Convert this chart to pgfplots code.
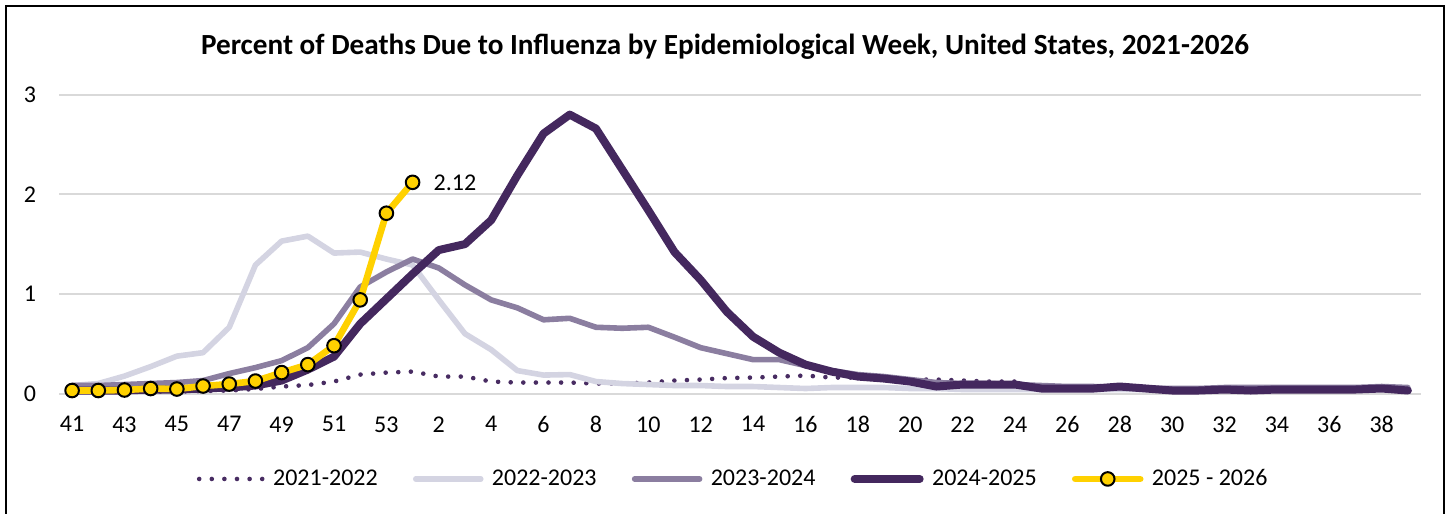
\documentclass[border=0pt]{standalone}
\usepackage{pgfplots}
\pgfplotsset{compat=1.18}
\usepackage{pgfplotstable}
\usepackage{fontspec}
\setmainfont{Carlito}
\definecolor{c21}{RGB}{72,44,98}
\definecolor{c22}{RGB}{212,212,226}
\definecolor{c23}{RGB}{139,126,160}
\definecolor{c24}{RGB}{68,40,94}
\definecolor{c25}{RGB}{255,209,0}
\definecolor{gridc}{RGB}{217,217,217}

\pgfplotsset{
  ylegend/.style={legend image code/.code={\draw[mark repeat=2, mark phase=2, ##1] plot coordinates {(0bp,0bp) (16.25bp,0bp) (32.5bp,0bp)};}},
  dlegend/.style={legend image code/.code={\draw[c21, line width=2.3bp, line cap=round, dash pattern=on 0bp off 6.3bp] (0bp,0bp) -- (31.6bp,0bp);}},
  llegend/.style={legend image code/.code={\draw[##1] (0bp,0bp) -- (32.5bp,0bp);}},
}

% i = position (0 = week 41, 12 = week 53, 13 = week 1, 51 = week 39)
\pgfplotstableread{
i  s21   s22   s23   s24
0  0.02  0.08  0.08  0.03
1  0.02  0.10  0.08  0.03
2  0.02  0.175 0.09  0.03
3  0.02  0.27  0.10  0.04
4  0.02  0.375 0.11  0.04
5  0.025 0.41  0.13  0.05
6  0.03  0.665 0.20  0.06
7  0.045 1.29  0.26  0.08
8  0.07  1.53  0.33  0.13
9  0.085 1.58  0.46  0.24
10 0.12  1.41  0.70  0.37
11 0.19  1.42  1.07  0.70
12 0.21  1.35  1.22  0.95
13 0.22  1.29  1.35  1.20
14 0.17  0.94  1.26  1.44
15 0.17  0.60  1.09  1.50
16 0.12  0.44  0.94  1.74
17 0.11  0.23  0.86  2.19
18 0.11  0.185 0.74  2.61
19 0.11  0.19  0.755 2.80
20 0.10  0.12  0.665 2.66
21 0.10  0.10  0.655 2.25
22 0.11  0.09  0.665 1.84
23 0.13  0.08  0.565 1.42
24 0.14  0.08  0.46  1.14
25 0.155 0.07  0.40  0.82
26 0.16  0.07  0.34  0.57
27 0.17  0.06  0.34  0.41
28 0.18  0.05  0.28  0.29
29 0.16  0.06  0.23  0.22
30 0.16  0.06  0.19  0.17
31 0.15  0.06  0.17  0.15
32 0.14  0.05  0.14  0.12
33 0.14  0.05  0.11  0.07
34 0.13  0.04  0.10  0.09
35 0.12  0.04  0.10  0.09
36 0.12  0.04  0.09  0.09
37 0.05  0.04  0.08  0.05
38 0.05  0.04  0.07  0.05
39 0.05  0.04  0.07  0.05
40 0.05  0.04  0.06  0.07
41 0.04  0.04  0.05  0.05
42 0.03  0.04  0.05  0.03
43 0.03  0.04  0.05  0.03
44 0.03  0.04  0.06  0.04
45 0.03  0.04  0.06  0.03
46 0.03  0.04  0.06  0.04
47 0.03  0.04  0.06  0.04
48 0.03  0.04  0.06  0.04
49 0.03  0.04  0.06  0.04
50 0.04  0.05  0.07  0.05
51 0.03  0.04  0.06  0.03
}\datamain

\pgfplotstableread{
i  s25
0  0.03
1  0.03
2  0.035
3  0.05
4  0.045
5  0.075
6  0.095
7  0.125
8  0.21
9  0.29
10 0.48
11 0.94
12 1.81
13 2.12
}\datanew

\begin{document}
\begin{tikzpicture}
\useasboundingbox (0,0) rectangle (725bp,257bp);
\draw[black, line width=1.1bp] (3bp,-10bp) -- (3bp,254bp) -- (722bp,254bp) -- (722bp,-10bp);
\begin{axis}[
  at={(29.5bp,60.25bp)}, anchor=south west,
  scale only axis, width=681bp, height=149.4bp,
  xmin=-0.5, xmax=51.5, ymin=0, ymax=3,
  clip=false,
  axis line style={draw=none},
  major tick length=0pt,
  ytick={0,1,2,3},
  ymajorgrids, grid style={color=gridc, line width=1bp},
  xtick={0,2,...,50},
  xticklabels={41,43,45,47,49,51,53,2,4,6,8,10,12,14,16,18,20,22,24,26,28,30,32,34,36,38},
  /pgf/number format/assume math mode=true,
  ticklabel style={font=\fontsize{12bp}{14bp}\selectfont, text=black},
  xticklabel style={yshift=-8bp},
  yticklabel style={xshift=-8bp},
  title={Percent of Deaths Due to Influenza by Epidemiological Week, United States, 2021-2026},
  title style={font=\bfseries\fontsize{14.6bp}{17bp}\selectfont, at={(axis description cs:0.489,1)}, anchor=center, yshift=18bp},
  legend columns=5,
  legend style={draw=none, fill=none, at={(axis description cs:0.495,-0.286)}, anchor=center,
    font=\fontsize{12bp}{14bp}\selectfont, inner sep=0pt,
    nodes={inner sep=1bp},
    /tikz/every odd column/.append style={column sep=3.2bp},
    /tikz/every even column/.append style={column sep=16.6bp}},
  llegend,
]
\addplot[c21, line width=2.3bp, line cap=round, dash pattern=on 0bp off 6.3bp, dlegend]
  table[x=i, y=s21] {\datamain};
\addlegendentry{2021-2022}
\addplot[c22, line width=2.8bp, line join=round, line cap=round] table[x=i, y=s22] {\datamain};
\addlegendentry{2022-2023}
\addplot[c23, line width=2.8bp, line join=round, line cap=round] table[x=i, y=s23] {\datamain};
\addlegendentry{2023-2024}
\addplot[c24, line width=4bp, line join=round, line cap=round] table[x=i, y=s24] {\datamain};
\addlegendentry{2024-2025}
\addplot[c25, line width=3.3bp, line join=round, line cap=round,
  mark=*, mark size=3.4bp, mark options={fill=c25, draw=black, line width=1bp}, ylegend]
  table[x=i, y=s25] {\datanew};
\addlegendentry{2025 - 2026}
\addplot[draw=none, forget plot, nodes near coords, point meta=explicit symbolic,
  nodes near coords style={anchor=west, xshift=7bp, font=\fontsize{12bp}{14bp}\selectfont, text=black}]
  coordinates {(13,2.12) [2.12]};
\end{axis}
\end{tikzpicture}
\end{document}
